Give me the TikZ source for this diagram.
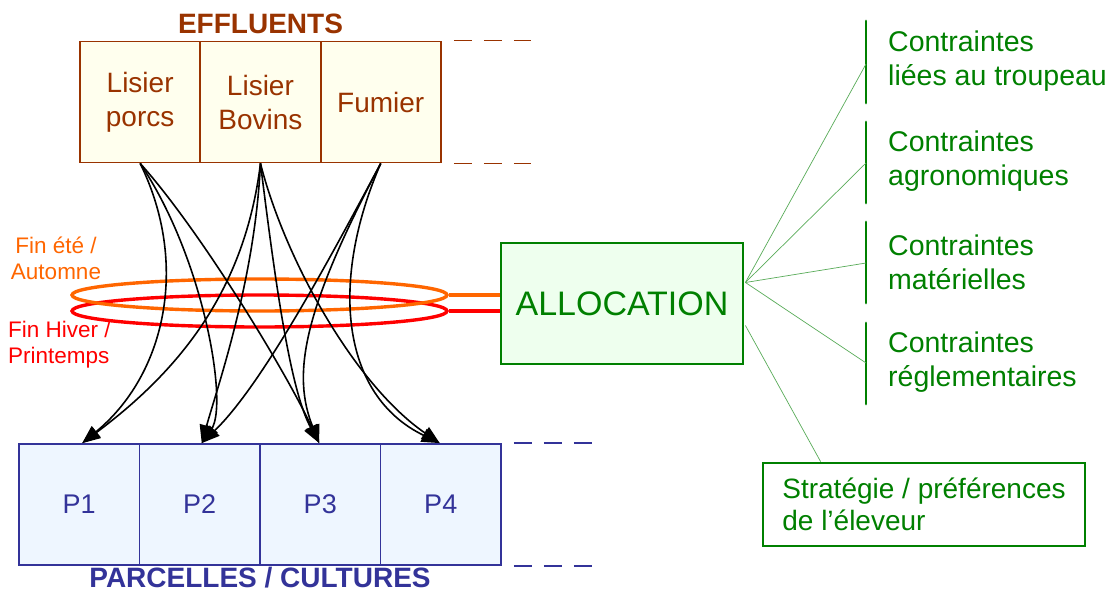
\documentclass[tikz,border=0pt]{standalone}
\usepackage{fontspec}
\setmainfont{Liberation Sans}
\usetikzlibrary{arrows.meta,shapes.geometric,calc}
\definecolor{brownc}{RGB}{153,51,0}
\definecolor{creamc}{RGB}{255,255,238}
\definecolor{bluec}{RGB}{51,51,153}
\definecolor{lightbluec}{RGB}{238,246,255}
\definecolor{greenc}{RGB}{0,128,0}
\definecolor{lightgreenc}{RGB}{238,255,238}
\definecolor{orangec}{RGB}{255,102,0}
\definecolor{redc}{RGB}{255,0,0}
\tikzset{
  effcell/.style={draw=brownc, fill=creamc, line width=1.8pt, minimum width=120.3pt, minimum height=121pt, inner sep=0pt, text=brownc, align=center, font=\fontsize{28}{34}\selectfont},
  parcell/.style={draw=bluec, fill=lightbluec, line width=1.8pt, minimum width=120.5pt, minimum height=121pt, inner sep=0pt, text=bluec, font=\fontsize{27}{32}\selectfont},
  brdash/.style={draw=brownc, line width=1.8pt, dash pattern=on 18pt off 12pt, dash phase=18pt},
  bldash/.style={draw=bluec, line width=1.8pt, dash pattern=on 18pt off 12pt, dash phase=18pt},
  titlebrown/.style={text=brownc, font=\bfseries\fontsize{28}{34}\selectfont, anchor=base, inner sep=0pt},
  titleblue/.style={text=bluec, font=\bfseries\fontsize{28}{34}\selectfont, anchor=base, inner sep=0pt},
  season/.style={ellipse, minimum width=375pt, minimum height=32pt, inner sep=0pt, line width=3.4pt},
  seasonlbl/.style={font=\fontsize{22.5}{26}\selectfont, inner sep=0pt},
  arr/.style={line width=1.6pt, black, -{Triangle[length=18pt,width=14pt]}},
  allocbox/.style={draw=greenc, fill=lightgreenc, line width=2.8pt, minimum width=242pt, minimum height=121pt, inner sep=0pt, text=greenc, font=\fontsize{34}{40}\selectfont},
  gbar/.style={draw=greenc, line width=2.8pt, line cap=round},
  glink/.style={draw=greenc!65, line width=0.7pt},
  glabel/.style={text=greenc, anchor=west, align=left, inner sep=0pt, font=\fontsize{28.5}{34}\selectfont},
  stratbox/.style={draw=greenc, line width=2.8pt, minimum width=322pt, minimum height=83pt, inner sep=0pt, text=greenc, align=left, font=\fontsize{28}{32}\selectfont}
}
\begin{document}
\begin{tikzpicture}[x=1pt,y=-1pt]
\fill[white] (0,0) rectangle (1107,591);
\useasboundingbox (0,0) rectangle (1107,591);

% Effluents
\node[titlebrown] (efftitle) at (260.5,34) {EFFLUENTS};
\node[effcell] (e1) at (140.15,102) {Lisier\\porcs};
\node[effcell] (e2) at (260.45,102) {Lisier\\Bovins};
\node[effcell] (e3) at (380.75,102) {Fumier};
\draw[brdash] (e3.north east) -- ++(89,0);
\draw[brdash] (e3.south east) -- ++(89,0);

% Parcelles
\node[parcell] (p1) at (79.25,504.5) {P1};
\node[parcell] (p2) at (199.75,504.5) {P2};
\node[parcell] (p3) at (320.25,504.5) {P3};
\node[parcell] (p4) at (440.75,504.5) {P4};
\draw[bldash] (p4.north east) -- ++(91,0);
\draw[bldash] (p4.south east) -- ++(91,0);
\node[titleblue] (partitle) at (260,587) {PARCELLES / CULTURES};

% Allocation
\node[allocbox] (alloc) at (622,303.5) {ALLOCATION};

% Seasons
\node[season, draw=redc] (ellred) at (259.5,311) {};
\node[season, draw=orangec] (ellor) at (259.5,295) {};
\draw[draw=orangec, line width=3.2pt] (ellor.east) -- (alloc.west |- ellor.east);
\draw[draw=redc, line width=3.2pt] (ellred.east) -- (alloc.west |- ellred.east);
\node[seasonlbl, text=orangec, align=center] (lblete) at (56,258) {Fin été /\\Automne};
\node[seasonlbl, text=redc, align=left, anchor=west] (lblhiver) at (8,345) {Fin Hiver /\\Printemps};

% Arrows
\coordinate (t1) at ($(p1.north)+(3,0)$);
\coordinate (t2) at ($(p2.north)+(2,0)$);
\coordinate (t3) at ($(p3.north)+(-1,0)$);
\coordinate (t4) at ($(p4.north)+(-1,0)$);
\draw[arr] (e1.south) .. controls (190,265) and (165,375) .. (t1);
\draw[arr] (e1.south) .. controls (205,260) and (228,405) .. (t2);
\draw[arr] (e1.south) .. controls (200,230) and (285,370) .. (t3);
\draw[arr] (e2.south) .. controls (245,290) and (180,370) .. (t1);
\draw[arr] (e2.south) .. controls (255,280) and (218,385) .. (t2);
\draw[arr] (e2.south) .. controls (275,280) and (290,390) .. (t3);
\draw[arr] (e2.south) .. controls (285,260) and (355,385) .. (t4);
\draw[arr] (e3.south) .. controls (328,262) and (262,385) .. (t2);
\draw[arr] (e3.south) .. controls (302,312) and (292,375) .. (t3);
\draw[arr] (e3.south) .. controls (330,280) and (340,395) .. (t4);

% Constraints
\coordinate (b1) at (866,64);
\coordinate (b2) at (866,163);
\coordinate (b3) at (866,263);
\coordinate (b4) at (866,363);
\draw[gbar] (866,21) -- (866,103);
\draw[gbar] (866,122) -- (866,203);
\draw[gbar] (866,222) -- (866,303);
\draw[gbar] (866,323) -- (866,404);
\node[glabel] (c1) at (888,61.5) {Contraintes\\liées au troupeau};
\node[glabel] (c2) at (888,161.5) {Contraintes\\agronomiques};
\node[glabel] (c3) at (888,262) {Contraintes\\matérielles};
\node[glabel] (c4) at (888,362) {Contraintes\\réglementaires};
\node[stratbox] (strat) at (924,504.5) {Stratégie / préférences\\de l’éleveur};

\coordinate (asrc) at ($(alloc.east)+(1,-21)$);
\coordinate (asrc2) at ($(alloc.east)+(1,22)$);
\draw[glink] (asrc) -- (b1);
\draw[glink] (asrc) -- (b2);
\draw[glink] (asrc) -- (b3);
\draw[glink] (asrc) -- (b4);
\draw[glink] (asrc2) -- ($(strat.north west)+(59,0)$);
\end{tikzpicture}
\end{document}
